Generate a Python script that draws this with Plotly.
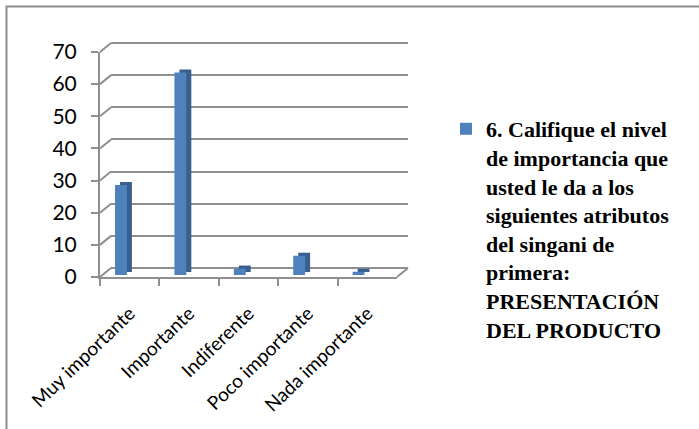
import plotly.graph_objects as go

# ---- data ----
categories = ["Muy importante", "Importante", "Indiferente", "Poco importante", "Nada importante"]
values = [28, 63, 2, 6, 1]
series_name = ("6. Califique el nivel<br>de importancia que<br>usted le da a los<br>"
               "siguientes atributos<br>del singani de<br>primera:<br>"
               "PRESENTACIÓN<br>DEL PRODUCTO")
y_ticks = [0, 10, 20, 30, 40, 50, 60, 70]

W, H = 699, 429
def fx(px):
    return px / W
def fy(py):
    return 1 - py / H

GRID = "#8f8f8f"
FRONT_L, FRONT_R, FRONT_B, FRONT_T = 100, 397, 277, 52
DX, DY = 11, 9          # 3-D depth offset (pixels)
PX_PER_UNIT = (FRONT_B - FRONT_T) / 70.0

fig = go.Figure()

# helper traces so the front-axis and back-wall subplots exist
fig.add_trace(go.Scatter(x=categories, y=[None] * len(categories), xaxis="x", yaxis="y",
                         mode="markers", showlegend=False, hoverinfo="skip"))
fig.add_trace(go.Scatter(x=[None], y=[None], xaxis="x2", yaxis="y2", mode="markers",
                         showlegend=False, hoverinfo="skip"))

# bar depth (side/top) shading
fig.add_trace(go.Bar(x=categories, y=values, xaxis="x3", yaxis="y3",
                     marker=dict(color="#395f8e", line=dict(width=0)),
                     offset=-0.247, width=0.2, showlegend=False, hoverinfo="skip"))
# bar front faces
fig.add_trace(go.Bar(x=categories, y=values, xaxis="x4", yaxis="y4", name=series_name,
                     marker=dict(color="#4f81bd", line=dict(width=0)),
                     offset=-0.247, width=0.2, showlegend=True))

axis_hidden = dict(showgrid=False, showline=False, zeroline=False, showticklabels=False,
                   ticks="", automargin=False)
eps = 2  # pad the back-wall range so edge gridlines are drawn
pad_px = eps * PX_PER_UNIT

fig.update_layout(
    width=W, height=H,
    margin=dict(l=0, r=0, t=0, b=0, autoexpand=False),
    paper_bgcolor="white", plot_bgcolor="rgba(0,0,0,0)",
    barmode="overlay",
    xaxis=dict(domain=[fx(FRONT_L), fx(FRONT_R)], anchor="y", range=[-0.5, 4.5],
               type="category", categoryarray=categories, categoryorder="array",
               tickson="boundaries", ticks="outside", ticklen=7,
               tickcolor=GRID, tickwidth=2, showline=True, linecolor=GRID, linewidth=2,
               showgrid=False, zeroline=False, tickangle=-44, automargin=False,
               ticklabelstandoff=16,
               tickfont=dict(family="Lato", size=19, color="#000")),
    yaxis=dict(domain=[fy(FRONT_B), fy(FRONT_T)], anchor="x", range=[0, 70],
               tickvals=y_ticks, ticks="outside", ticklen=7, tickcolor=GRID, tickwidth=2,
               showline=True, linecolor=GRID, linewidth=2, showgrid=False, zeroline=False,
               ticklabelstandoff=10, automargin=False,
               tickfont=dict(family="Lato", size=21, color="#000")),
    xaxis2=dict(domain=[fx(FRONT_L + DX), fx(FRONT_R + DX)], anchor="y2", range=[0, 1], **axis_hidden),
    yaxis2=dict(domain=[fy(FRONT_B - DY + pad_px), fy(FRONT_T - DY - pad_px)], anchor="x2",
                range=[-eps, 70 + eps],
                tickvals=y_ticks, showgrid=True, gridcolor=GRID, gridwidth=2,
                showline=False, zeroline=False, showticklabels=False, ticks="", automargin=False),
    xaxis3=dict(domain=[fx(FRONT_L + 5), fx(FRONT_R + 5)], anchor="y3", range=[-0.5, 4.5],
                type="category", **axis_hidden),
    yaxis3=dict(domain=[fy(FRONT_B - 2 - 3), fy(FRONT_T - 2 - 3)], anchor="x3", range=[0, 70], **axis_hidden),
    xaxis4=dict(domain=[fx(FRONT_L), fx(FRONT_R)], anchor="y4", range=[-0.5, 4.5],
                type="category", **axis_hidden),
    yaxis4=dict(domain=[fy(FRONT_B - 2), fy(FRONT_T - 2)], anchor="x4", range=[0, 70], **axis_hidden),
    legend=dict(x=fx(446), y=fy(108), xanchor="left", yanchor="top", valign="top",
                bgcolor="rgba(0,0,0,0)",
                font=dict(family="Liberation Serif, 'Times New Roman', serif", size=22,
                          color="#000", weight="bold")),
)

shapes = []
# diagonal connectors from front axis to back wall, per tick
for v in y_ticks:
    yf = FRONT_B - v * PX_PER_UNIT
    shapes.append(dict(type="line", xref="paper", yref="paper",
                       x0=fx(FRONT_L), y0=fy(yf), x1=fx(FRONT_L + DX), y1=fy(yf - DY),
                       line=dict(color=GRID, width=2)))
# right edge of floor
shapes.append(dict(type="line", xref="paper", yref="paper",
                   x0=fx(FRONT_R), y0=fy(FRONT_B), x1=fx(FRONT_R + DX), y1=fy(FRONT_B - DY),
                   line=dict(color=GRID, width=2)))
# chart border
shapes.append(dict(type="rect", xref="paper", yref="paper",
                   x0=fx(6.5), y0=-0.05, x1=1.05, y1=fy(6.5),
                   line=dict(color="#8e8e8e", width=2)))
fig.update_layout(shapes=shapes)

fig.write_html("out.html")
